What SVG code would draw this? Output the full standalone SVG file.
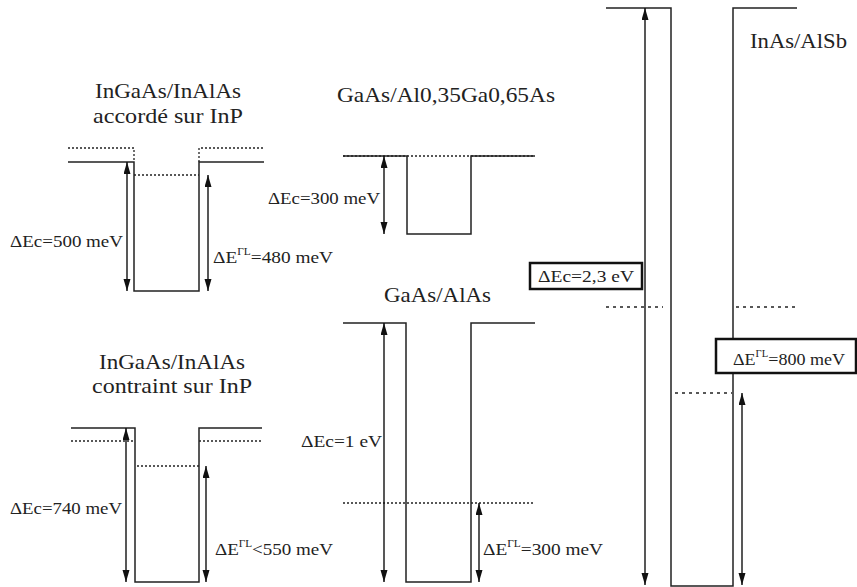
<svg xmlns="http://www.w3.org/2000/svg" width="857" height="587" viewBox="0 0 857 587" font-family="'Liberation Serif', 'Times New Roman', serif">
<defs>
<marker id="ah" markerUnits="userSpaceOnUse" markerWidth="12" markerHeight="8" refX="12" refY="3.5" orient="auto-start-reverse">
<path d="M0,0 L12,3.5 L0,7 z" fill="#111"/>
</marker>
<style>
.s{fill:none;stroke:#222;stroke-width:1.5}
.d{fill:none;stroke:#222;stroke-width:1.3;stroke-dasharray:2,2}
.d2{fill:none;stroke:#222;stroke-width:1.3;stroke-dasharray:3,4}
.a{fill:none;stroke:#111;stroke-width:1.4;marker-start:url(#ah);marker-end:url(#ah)}
.t{font-size:21px;fill:#222}
.l{font-size:17px;fill:#222}
.sup{font-size:10px}
.box{fill:#fff;stroke:#111;stroke-width:2.5}
</style>
</defs>
<rect width="857" height="587" fill="#fff"/>

<g id="p1">
<path class="d" d="M68,148 H134 V162 M199,162 V148 H264 M134,175 H199"/>
<path class="s" d="M68,162 H134 V291 H199 V162 H264"/>
<text class="t" x="168" y="98" text-anchor="middle" textLength="146" lengthAdjust="spacingAndGlyphs">InGaAs/InAlAs</text>
<text class="t" x="168" y="123" text-anchor="middle" textLength="150" lengthAdjust="spacingAndGlyphs">accordé sur InP</text>
<text class="l" x="10" y="247" textLength="113" lengthAdjust="spacingAndGlyphs">ΔEc=500 meV</text>
<text class="l" x="213" y="263" textLength="120" lengthAdjust="spacingAndGlyphs">ΔE<tspan class="sup" dy="-8">ΓL</tspan><tspan dy="8">=480 meV</tspan></text>
</g>

<g id="p2">
<path class="d" d="M343,156 H535"/>
<path class="s" d="M343,156 H407 V234 H471 V156 H535"/>
<text class="t" x="337" y="102" textLength="218" lengthAdjust="spacingAndGlyphs">GaAs/Al0,35Ga0,65As</text>
<text class="l" x="268" y="204" textLength="112" lengthAdjust="spacingAndGlyphs">ΔEc=300 meV</text>
</g>

<g id="p3">
<path class="d" d="M71,441 H133 M199,441 H262 M137,466 H199"/>
<path class="s" d="M71,428 H135 V582 H199 V428 H262"/>
<text class="t" x="172" y="369" text-anchor="middle" textLength="146" lengthAdjust="spacingAndGlyphs">InGaAs/InAlAs</text>
<text class="t" x="172" y="393" text-anchor="middle" textLength="160" lengthAdjust="spacingAndGlyphs">contraint sur InP</text>
<text class="l" x="10" y="514" textLength="112" lengthAdjust="spacingAndGlyphs">ΔEc=740 meV</text>
<text class="l" x="215" y="555" textLength="118" lengthAdjust="spacingAndGlyphs">ΔE<tspan class="sup" dy="-8">ΓL</tspan><tspan dy="8">&lt;550 meV</tspan></text>
</g>

<g id="p4">
<path class="d" d="M343,503 H535"/>
<path class="s" d="M343,323 H406 V582 H471 V323 H535"/>
<text class="t" x="384" y="302" textLength="107" lengthAdjust="spacingAndGlyphs">GaAs/AlAs</text>
<text class="l" x="301" y="447" textLength="81" lengthAdjust="spacingAndGlyphs">ΔEc=1 eV</text>
<text class="l" x="483" y="555" textLength="120" lengthAdjust="spacingAndGlyphs">ΔE<tspan class="sup" dy="-8">ΓL</tspan><tspan dy="8">=300 meV</tspan></text>
</g>

<g id="p5">
<path class="d2" d="M606,307 H663 M736,307 H797 M675,393 H732"/>
<path class="s" d="M606,8 H671 V586 H733 V8 H797"/>
<text class="t" x="750" y="48" textLength="97" lengthAdjust="spacingAndGlyphs">InAs/AlSb</text>
</g>

<g id="connectors">
<line class="a" x1="127" y1="162" x2="127" y2="291"/>
<line class="a" x1="208" y1="175" x2="208" y2="291"/>
<line class="a" x1="384" y1="156" x2="384" y2="234"/>
<line class="a" x1="126" y1="428" x2="126" y2="582"/>
<line class="a" x1="206" y1="466" x2="206" y2="582"/>
<line class="a" x1="384" y1="323" x2="384" y2="582"/>
<line class="a" x1="479" y1="503" x2="479" y2="582"/>
<line class="a" x1="645" y1="8" x2="645" y2="585"/>
<line class="a" x1="742" y1="393" x2="742" y2="585"/>
</g>

<g id="box1">
<rect class="box" x="530" y="263" width="112" height="26"/>
<text class="l" x="586" y="282" text-anchor="middle" textLength="96" lengthAdjust="spacingAndGlyphs">ΔEc=2,3 eV</text>
</g>
<g id="box2">
<rect class="box" x="716" y="339" width="140" height="34"/>
<text class="l" x="733" y="365" textLength="112" lengthAdjust="spacingAndGlyphs">ΔE<tspan class="sup" dy="-8">ΓL</tspan><tspan dy="8">=800 meV</tspan></text>
</g>
</svg>
